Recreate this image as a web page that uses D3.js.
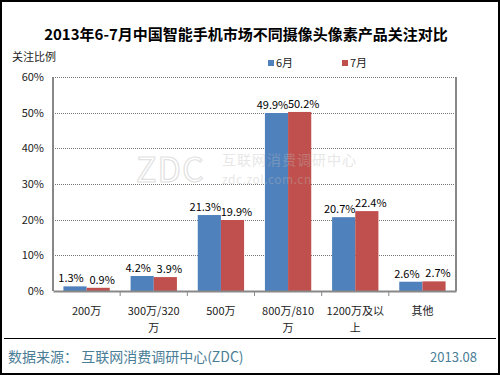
<!DOCTYPE html>
<html>
<head>
<meta charset="utf-8">
<script src="https://cdn.jsdelivr.net/npm/d3@7"></script>
<style>
  body { margin: 0; background: #fff; }
  text { font-family: "Noto Sans CJK SC", "DejaVu Sans", sans-serif; }
</style>
</head>
<body>
<div id="chart"></div>
<script>
var width = 500, height = 375;

var categories = ["200万", "300万/320万", "500万", "800万/810万", "1200万及以上", "其他"];
var catLines = [["200万"], ["300万/320", "万"], ["500万"], ["800万/810", "万"], ["1200万及以", "上"], ["其他"]];
var seriesNames = ["6月", "7月"];
var june = [1.3, 4.2, 21.3, 49.9, 20.7, 2.6];
var july = [0.9, 3.9, 19.9, 50.2, 22.4, 2.7];
var yTicks = [0, 10, 20, 30, 40, 50, 60];
var colors = ["#4f81bd", "#c0504d"];

var margin = {left: 53, right: 44, top: 77, bottom: 84};

var svg = d3.select("#chart").append("svg")
  .attr("width", width).attr("height", height);

// outer frame
svg.append("rect").attr("x", 1).attr("y", 1).attr("width", width - 2).attr("height", height - 2)
  .attr("fill", "#fff").attr("stroke", "#000").attr("stroke-width", 2);
svg.append("line").attr("x1", 4).attr("x2", 496).attr("y1", 338.5).attr("y2", 338.5)
  .attr("stroke", "#000").attr("stroke-width", 1);

svg.append("text").attr("x", 246).attr("y", 40).attr("text-anchor", "middle")
  .attr("font-size", 15).attr("font-weight", "bold").attr("fill", "#000")
  .text("2013年6-7月中国智能手机市场不同摄像头像素产品关注对比");

svg.append("text").attr("x", 12).attr("y", 61).attr("font-size", 11).attr("fill", "#222")
  .text("关注比例");

var x = d3.scaleBand().domain(categories).range([margin.left, width - margin.right]);
var xs = d3.scaleBand().domain(seriesNames).range([0, x.bandwidth()]).paddingInner(0).paddingOuter(0.45);
var y = d3.scaleLinear().domain([0, 60]).range([height - margin.bottom, margin.top]);

// gridlines
svg.append("g").selectAll("line").data(yTicks.slice(1)).enter().append("line")
  .attr("x1", margin.left).attr("x2", width - margin.right)
  .attr("y1", function(d) { return Math.round(y(d)) + 0.5; })
  .attr("y2", function(d) { return Math.round(y(d)) + 0.5; })
  .attr("stroke", "#777").attr("stroke-dasharray", "1,1");

// y axis
svg.append("g").attr("transform", "translate(" + margin.left + ",0)")
  .call(d3.axisLeft(y).tickValues(yTicks).tickSize(0).tickPadding(9).tickFormat(function(d) { return d + "%"; }))
  .call(function(g) {
    g.select(".domain").attr("stroke", "#888").attr("stroke-width", 2).attr("d", "M0," + y(0) + "V" + y(60));
    g.selectAll("text").attr("font-size", 11).attr("fill", "#222").attr("font-family", "Noto Sans CJK SC");
  });
// right border
svg.append("line").attr("x1", width - margin.right).attr("x2", width - margin.right)
  .attr("y1", y(0)).attr("y2", y(60)).attr("stroke", "#888").attr("stroke-width", 2);

// bars
var groups = svg.append("g").selectAll("g").data(categories).enter().append("g")
  .attr("transform", function(d) { return "translate(" + x(d) + ",0)"; });

[june, july].forEach(function(vals, si) {
  groups.append("rect")
    .attr("x", xs(seriesNames[si]))
    .attr("width", xs.bandwidth())
    .attr("y", function(d, i) { return y(vals[i]); })
    .attr("height", function(d, i) { return y(0) - y(vals[i]); })
    .attr("fill", colors[si]);
  groups.append("text")
    .attr("x", xs(seriesNames[si]) + xs.bandwidth() / 2 + (si === 0 ? -4 : 4))
    .attr("y", function(d, i) { return y(vals[i]) - 4; })
    .attr("text-anchor", "middle").attr("font-size", 11).attr("fill", "#000")
    .text(function(d, i) { return vals[i].toFixed(1) + "%"; });
});

// watermark (drawn over the bars, faint)
var wm = svg.append("g").attr("opacity", 0.35);
wm.append("text").attr("x", 136).attr("y", 182).attr("font-size", 34).attr("fill", "none")
  .attr("stroke", "#aaa").attr("stroke-width", 1.2).attr("font-family", "DejaVu Sans")
  .attr("letter-spacing", 1).text("ZDC");
wm.append("text").attr("x", 222).attr("y", 165).attr("font-size", 14).attr("fill", "#bbb")
  .attr("letter-spacing", 1).text("互联网消费调研中心");
wm.append("text").attr("x", 222).attr("y", 184).attr("font-size", 12).attr("fill", "#bbb")
  .attr("font-family", "DejaVu Sans").attr("letter-spacing", 0.5).text("zdc.zol.com.cn");

// x axis
svg.append("g").attr("transform", "translate(0," + y(0) + ")")
  .call(d3.axisBottom(x).tickSize(0).tickFormat(""))
  .call(function(g) {
    g.select(".domain").attr("stroke", "#888").attr("stroke-width", 2);
  });
svg.append("g").selectAll("line").data(categories.slice(1)).enter().append("line")
  .attr("x1", function(d) { return x(d); }).attr("x2", function(d) { return x(d); })
  .attr("y1", y(0)).attr("y2", y(0) + 5).attr("stroke", "#888");

var labels = svg.append("g").selectAll("text").data(categories).enter().append("text")
  .attr("text-anchor", "middle").attr("font-size", 11).attr("fill", "#222")
  .attr("x", function(d) { return x(d) + x.bandwidth() / 2; })
  .attr("y", y(0) + 24);
labels.each(function(d, i) {
  var t = d3.select(this);
  catLines[i].forEach(function(line, j) {
    t.append("tspan").attr("x", x(d) + x.bandwidth() / 2).attr("dy", j === 0 ? 0 : 17).text(line);
  });
});

// legend
var legend = svg.append("g").selectAll("g").data(seriesNames).enter().append("g")
  .attr("transform", function(d, i) { return "translate(" + (268 + i * 74) + ",60)"; });
legend.append("rect").attr("width", 6).attr("height", 6).attr("fill", function(d, i) { return colors[i]; });
legend.append("text").attr("x", 8).attr("y", 7).attr("font-size", 11).attr("fill", "#222")
  .text(function(d) { return d; });

// footer
svg.append("text").attr("x", 8).attr("y", 362).attr("font-size", 14).attr("fill", "#4a7d96")
  .text("数据来源： 互联网消费调研中心(ZDC)");
svg.append("text").attr("x", 477).attr("y", 362).attr("font-size", 13).attr("fill", "#4a7d96")
  .attr("text-anchor", "end").text("2013.08");
</script>
</body>
</html>
